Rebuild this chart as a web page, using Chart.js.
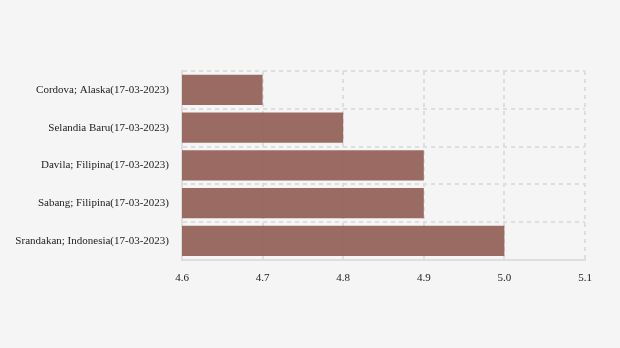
<!DOCTYPE html>
<html>
<head>
<meta charset="utf-8">
<script src="https://cdn.jsdelivr.net/npm/chart.js@4"></script>
<style>
  html, body { margin: 0; padding: 0; background: #f5f5f5; }
  #wrap { width: 620px; height: 348px; }
</style>
</head>
<body>
<div id="wrap"><canvas id="bar"></canvas></div>
<script>
const categories = [
  "Cordova; Alaska(17-03-2023)",
  "Selandia Baru(17-03-2023)",
  "Davila; Filipina(17-03-2023)",
  "Sabang; Filipina(17-03-2023)",
  "Srandakan; Indonesia(17-03-2023)"
];
const magnitudes = [4.7, 4.8, 4.9, 4.9, 5.0];
const xTicks = [4.6, 4.7, 4.8, 4.9, 5.0, 5.1];

const gridStyle = {
  color: "#dedede",
  lineWidth: 2,
  drawTicks: false
};
const borderStyle = { display: true, color: "#dedede", width: 2, dash: [4, 4] };

new Chart(document.getElementById("bar"), {
  type: "bar",
  data: {
    labels: categories,
    datasets: [{
      data: magnitudes,
      backgroundColor: "rgba(145, 94, 85, 0.92)",
      borderWidth: 0,
      barPercentage: 0.8,
      categoryPercentage: 1.0
    }]
  },
  options: {
    indexAxis: "y",
    responsive: true,
    maintainAspectRatio: false,
    animation: false,
    layout: { padding: { top: 71, right: 35, bottom: 51, left: 0 } },
    plugins: { legend: { display: false }, tooltip: { enabled: false } },
    scales: {
      x: {
        min: 4.6,
        max: 5.1,
        afterBuildTicks: (axis) => { axis.ticks = xTicks.map(v => ({ value: v })); },
        ticks: {
          color: "#222",
          padding: 12,
          font: { family: "Liberation Serif", size: 11 },
          callback: (v) => Number(v).toFixed(1)
        },
        grid: gridStyle,
        border: borderStyle
      },
      y: {
        afterFit: (axis) => { axis.width = 182; },
        ticks: {
          color: "#222",
          padding: 13,
          font: { family: "Liberation Serif", size: 11 }
        },
        grid: Object.assign({ offset: true }, gridStyle),
        border: borderStyle
      }
    }
  }
});
</script>
</body>
</html>
